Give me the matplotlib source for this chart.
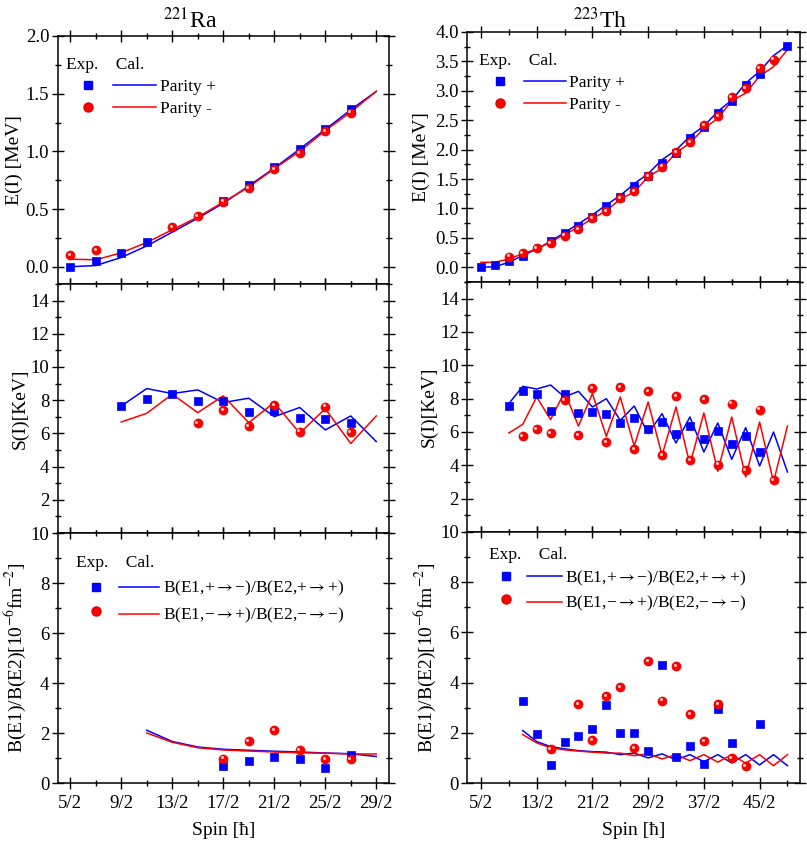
import numpy as np
import matplotlib
matplotlib.use('Agg')
import matplotlib.pyplot as plt
from matplotlib.lines import Line2D
from matplotlib.ticker import MultipleLocator, FuncFormatter, FixedLocator, FormatStrFormatter
import matplotlib.transforms as mtrans

plt.rcParams['font.family'] = ['Liberation Serif', 'DejaVu Sans']
plt.rcParams['mathtext.fontset'] = 'stix'

nan = np.nan

# ---------------- 221Ra ----------------
spin2_E_L = [5, 7, 9, 11, 13, 15, 17, 19, 21, 23, 25, 27, 29]
E_exp_pos_L = [0.0, 0.05, 0.123, 0.215, nan, nan, 0.570, 0.711, 0.862, 1.02, 1.19, 1.37, nan]
E_exp_neg_L = [0.103, 0.146, nan, nan, 0.341, 0.438, 0.565, 0.682, 0.845, 0.983, 1.175, 1.335, nan]
E_cal_pos_L = [0.0, 0.01, 0.08, 0.18, 0.30, 0.42, 0.55, 0.70, 0.855, 1.02, 1.19, 1.36, 1.52]
E_cal_neg_L = [0.065, 0.06, 0.12, 0.21, 0.32, 0.43, 0.56, 0.69, 0.85, 1.0, 1.18, 1.34, 1.52]

spin2_S_L = [9, 11, 13, 15, 17, 19, 21, 23, 25, 27, 29]
S_exp_pos_L = [7.65, 8.1, 8.36, 7.94, 7.94, 7.29, 7.37, 6.93, 6.85, 6.61, nan]
S_exp_neg_L = [nan, nan, nan, 6.61, 7.41, 6.45, 7.70, 6.11, 7.62, 6.07, nan]
S_cal_pos_L = [7.65, 8.7, 8.4, 8.62, 7.86, 8.12, 7.01, 7.56, 6.21, 7.05, 5.51]
S_cal_neg_L = [6.69, 7.21, 8.36, 7.25, 8.26, 6.65, 7.86, 6.01, 7.49, 5.39, 7.05]

spin2_Bcal_L = [11, 13, 15, 17, 19, 21, 23, 25, 27, 29]
B_cal_pos_L = [2.11, 1.66, 1.44, 1.35, 1.31, 1.27, 1.24, 1.2, 1.17, 1.06]
B_cal_neg_L = [2.0, 1.63, 1.41, 1.32, 1.28, 1.24, 1.21, 1.19, 1.16, 1.16]
spin2_Bexp_L = [17, 19, 21, 23, 25, 27]
B_exp_pos_L = [0.70, 0.88, 1.04, 0.97, 0.62, 1.14]
B_exp_neg_L = [0.98, 1.67, 2.11, 1.31, 0.97, 0.97]

# ---------------- 223Th ----------------
spin2_E_R = [5, 7, 9, 11, 13, 15, 17, 19, 21, 23, 25, 27, 29, 31, 33, 35, 37, 39, 41, 43, 45, 47, 49]
E_exp_pos_R = [0.0, 0.04, 0.11, 0.2, nan, 0.44, 0.58, 0.71, 0.86, 1.04, 1.19, 1.39, 1.56, 1.78,
               1.95, 2.19, 2.39, 2.63, 2.83, 3.10, 3.29, nan, 3.77]
E_exp_neg_R = [nan, nan, 0.18, 0.24, 0.32, 0.41, 0.54, 0.65, 0.84, 0.96, 1.18, 1.30, 1.55, 1.71,
               1.96, 2.13, 2.42, 2.57, 2.89, 3.04, 3.39, 3.53, nan]
E_cal_pos_R = [0.0, 0.01, 0.085, 0.2, 0.31, 0.44, 0.59, 0.74, 0.89, 1.06, 1.22, 1.42, 1.59, 1.83,
               1.99, 2.23, 2.40, 2.65, 2.84, 3.13, 3.33, 3.60, 3.77]
E_cal_neg_R = [0.085, 0.085, 0.14, 0.23, 0.31, 0.43, 0.56, 0.68, 0.83, 0.96, 1.16, 1.28, 1.54, 1.68,
               1.95, 2.11, 2.36, 2.53, 2.83, 2.96, 3.25, 3.41, 3.70]

spin2_S_R = [9, 11, 13, 15, 17, 19, 21, 23, 25, 27, 29, 31, 33, 35, 37, 39, 41, 43, 45, 47, 49]
S_exp_pos_R = [7.56, 8.46, 8.3, 7.24, 8.3, 7.16, 7.2, 7.1, 6.56, 6.86, 6.2, 6.6, 5.9, 6.36, 5.6,
               6.06, 5.26, 5.76, 4.8, nan, nan]
S_exp_neg_R = [nan, 5.74, 6.16, 5.94, 7.9, 5.8, 8.64, 5.4, 8.7, 4.96, 8.46, 4.6, 8.16, 4.3, 7.96,
               4.04, 7.7, 3.7, 7.34, 3.1, nan]
S_cal_pos_R = [7.7, 8.74, 8.58, 8.82, 8.1, 8.44, 7.5, 8.0, 6.7, 7.56, 5.9, 7.1, 5.34, 6.9, 4.8,
               6.54, 4.36, 6.26, 3.96, 6.0, 3.6]
S_cal_neg_R = [5.94, 6.46, 8.1, 6.74, 8.4, 6.36, 8.3, 5.74, 8.1, 5.16, 7.8, 4.6, 7.5, 4.06, 7.14,
               3.64, 6.9, 3.3, 6.6, 3.0, 6.36]

spin2_Bcal_R = [11, 13, 15, 17, 19, 21, 23, 25, 27, 29, 31, 33, 35, 37, 39, 41, 43, 45, 47, 49]
B_cal_pos_R = [2.09, 1.65, 1.45, 1.36, 1.29, 1.25, 1.23, 1.13, 1.19, 1.0, 1.16, 0.92, 1.13, 0.85,
               1.13, 0.80, 1.13, 0.72, 1.13, 0.69]
B_cal_neg_R = [1.93, 1.6, 1.4, 1.32, 1.27, 1.23, 1.19, 1.19, 1.09, 1.16, 0.96, 1.13, 0.89, 1.13,
               0.83, 1.13, 0.79, 1.13, 0.69, 1.13]
spin2_Bexp_R = [11, 13, 15, 17, 19, 21, 23, 25, 27, 29, 31, 33, 35, 37, 39, 41, 43, 45]
B_exp_pos_R = [3.25, 1.96, 0.72, 1.63, 1.89, 2.16, 3.09, 2.0, 2.0, 1.27, 4.69, 1.03, 1.49, 0.76,
               2.96, 1.6, nan, 2.36]
B_exp_neg_R = [nan, nan, 1.36, nan, 3.13, 1.72, 3.47, 3.83, 1.39, 4.87, 3.28, 4.65, 2.75, 1.68,
               3.15, 0.99, 0.68, nan]

titles = [r'$^{221}$Ra', r'$^{223}$Th']
ylabels = ['E(I) [MeV]', 'S(I)[KeV]', r'B(E1)/B(E2)[10$^{-6}$fm$^{-2}$]']
xlabel = 'Spin [ħ]'
legE = ['Parity +', 'Parity -']
legB = [r'B(E1,+$\rightarrow$−)/B(E2,+$\rightarrow$+)', r'B(E1,−$\rightarrow$+)/B(E2,−$\rightarrow$−)']

BLUE = '#0000ff'
RED = '#ff0000'

fig = plt.figure(figsize=(8.07, 8.52), dpi=100)

W, H = 807.0, 852.0
def pos(l, r, t, b):
    return [l / W, 1 - b / H, (r - l) / W, (b - t) / H]

axL = [fig.add_axes(pos(57.5, 389, 36, 284)),
       fig.add_axes(pos(57.5, 389, 284, 533)),
       fig.add_axes(pos(57.5, 389, 533, 783))]
axR = [fig.add_axes(pos(467, 800, 32, 282)),
       fig.add_axes(pos(467, 800, 282, 532)),
       fig.add_axes(pos(467, 800, 532, 783))]

spin_fmt = FuncFormatter(lambda v, p: '%d/2' % int(round(2 * v)))


def red_balls(ax, x, y):
    ax.plot(x, y, ls='none', marker='o', ms=6.5, mfc=RED, mec='#e00000', mew=0.5, zorder=4)
    tr = mtrans.offset_copy(ax.transData, fig=fig, x=-0.9, y=0.9, units='points')
    ax.plot(x, y, ls='none', marker='o', ms=2.2, mfc='#ffc8c8', mec='none', transform=tr, zorder=5)


def blue_squares(ax, x, y):
    ax.plot(x, y, ls='none', marker='s', ms=5.8, mfc=BLUE, mec=BLUE, mew=0.5, zorder=3)


def style(ax, xlim, xmaj, xmin, show_x):
    ax.set_xlim(*xlim)
    ax.xaxis.set_major_locator(MultipleLocator(xmaj[0], offset=xmaj[1]))
    ax.xaxis.set_minor_locator(MultipleLocator(xmin[0], offset=xmin[1]))
    ax.xaxis.set_major_formatter(spin_fmt)
    ax.tick_params(which='both', direction='inout', top=True, right=True, labelsize=13.5,
                   width=1.0, colors='black')
    ax.tick_params(which='major', length=9)
    ax.tick_params(which='minor', length=5)
    ax.tick_params(axis='y', which='major', pad=1.5)
    ax.tick_params(axis='x', which='major', pad=4)
    ax.tick_params(axis='x', labelbottom=show_x)
    for s in ax.spines.values():
        s.set_linewidth(1.1)


def legend(ax, labels, anchor, fs, hl, sp):
    sq = Line2D([], [], ls='none', marker='s', ms=5.8, mfc=BLUE, mec=BLUE)
    ci = Line2D([], [], ls='none', marker='o', ms=6.5, mfc=RED, mec='#e00000')
    lb = Line2D([], [], color=BLUE, lw=1.1)
    lr = Line2D([], [], color=RED, lw=1.1)
    lg = ax.legend([sq, ci, lb, lr], ['', '', labels[0], labels[1]], ncol=2,
                   title='Exp.    Cal.', loc='upper left', bbox_to_anchor=anchor,
                   frameon=False, handlelength=hl, handletextpad=0.2, columnspacing=0.0,
                   fontsize=fs, title_fontsize=fs, alignment='left', labelspacing=sp,
                   borderaxespad=0.0, borderpad=0.2)
    return lg


cols = [
    dict(axes=axL, xlim=(2.0, 15.0), xmaj=(2, 0.5), xmin=(1, 0.5),
         sE=spin2_E_L, Ep=E_exp_pos_L, En=E_exp_neg_L, Ecp=E_cal_pos_L, Ecn=E_cal_neg_L,
         Eylim=(-0.15, 2.0),
         sS=spin2_S_L, Sp=S_exp_pos_L, Sn=S_exp_neg_L, Scp=S_cal_pos_L, Scn=S_cal_neg_L,
         sBc=spin2_Bcal_L, Bcp=B_cal_pos_L, Bcn=B_cal_neg_L,
         sBe=spin2_Bexp_L, Bp=B_exp_pos_L, Bn=B_exp_neg_L,
         title=titles[0], toff=5.5, ylx=[-0.105, -0.088, -0.088],
         legE=(0.015, 0.93), hlE=2.5, legB=(0.045, 0.925), hlB=2.3, spB=0.45),
    dict(axes=axR, xlim=(1.5, 25.4), xmaj=(4, 2.5), xmin=(2, 0.5),
         sE=spin2_E_R, Ep=E_exp_pos_R, En=E_exp_neg_R, Ecp=E_cal_pos_R, Ecn=E_cal_neg_R,
         Eylim=(-0.25, 4.0),
         sS=spin2_S_R, Sp=S_exp_pos_R, Sn=S_exp_neg_R, Scp=S_cal_pos_R, Scn=S_cal_neg_R,
         sBc=spin2_Bcal_R, Bcp=B_cal_pos_R, Bcn=B_cal_neg_R,
         sBe=spin2_Bexp_R, Bp=B_exp_pos_R, Bn=B_exp_neg_R,
         title=titles[1], toff=3.0, ylx=[-0.11, -0.088, -0.088],
         legE=(0.025, 0.93), hlE=2.4, legB=(0.055, 0.955), hlB=2.0, spB=0.35),
]

for c in cols:
    a0, a1, a2 = c['axes']
    half = lambda s: np.array(s) / 2.0

    # Energy panel
    xe = half(c['sE'])
    a0.plot(xe, c['Ecp'], color=BLUE, lw=1.1, zorder=2)
    a0.plot(xe, c['Ecn'], color=RED, lw=1.1, zorder=2)
    blue_squares(a0, xe, c['Ep'])
    red_balls(a0, xe, c['En'])
    a0.set_ylim(*c['Eylim'])
    a0.yaxis.set_major_locator(MultipleLocator(0.5))
    a0.yaxis.set_minor_locator(MultipleLocator(0.25))
    a0.yaxis.set_major_formatter(FormatStrFormatter('%.1f'))
    style(a0, c['xlim'], c['xmaj'], c['xmin'], False)
    a0.set_ylabel(ylabels[0], fontsize=14)
    a0.yaxis.set_label_coords(c['ylx'][0], 0.5)
    legend(a0, legE, c['legE'], 12.5, c['hlE'], 0.35)
    a0.annotate(c['title'], xy=(0.4, 1.0), xycoords='axes fraction',
                xytext=(0, c['toff']), textcoords='offset points',
                ha='center', va='baseline', fontsize=17)

    # Staggering panel
    xs = half(c['sS'])
    a1.plot(xs, c['Scp'], color=BLUE, lw=1.1, zorder=2)
    a1.plot(xs, c['Scn'], color=RED, lw=1.1, zorder=2)
    blue_squares(a1, xs, c['Sp'])
    red_balls(a1, xs, c['Sn'])
    a1.set_ylim(0, 15)
    a1.yaxis.set_major_locator(FixedLocator([2, 4, 6, 8, 10, 12, 14]))
    a1.yaxis.set_minor_locator(MultipleLocator(1))
    style(a1, c['xlim'], c['xmaj'], c['xmin'], False)
    a1.set_ylabel(ylabels[1], fontsize=14)
    a1.yaxis.set_label_coords(c['ylx'][1], 0.5)

    # B(E1)/B(E2) panel
    xb = half(c['sBc'])
    a2.plot(xb, c['Bcp'], color=BLUE, lw=1.1, zorder=2)
    a2.plot(xb, c['Bcn'], color=RED, lw=1.1, zorder=2)
    xbe = half(c['sBe'])
    blue_squares(a2, xbe, c['Bp'])
    red_balls(a2, xbe, c['Bn'])
    a2.set_ylim(0, 10)
    a2.yaxis.set_major_locator(MultipleLocator(2))
    a2.yaxis.set_minor_locator(MultipleLocator(1))
    style(a2, c['xlim'], c['xmaj'], c['xmin'], True)
    a2.set_ylabel(ylabels[2], fontsize=14)
    a2.yaxis.set_label_coords(c['ylx'][2], 0.5)
    a2.set_xlabel(xlabel, fontsize=14)
    a2.xaxis.set_label_coords(0.5, -0.155)
    legend(a2, legB, c['legB'], 12.5, c['hlB'], c['spB'])

fig.savefig('out.png', dpi=100)
